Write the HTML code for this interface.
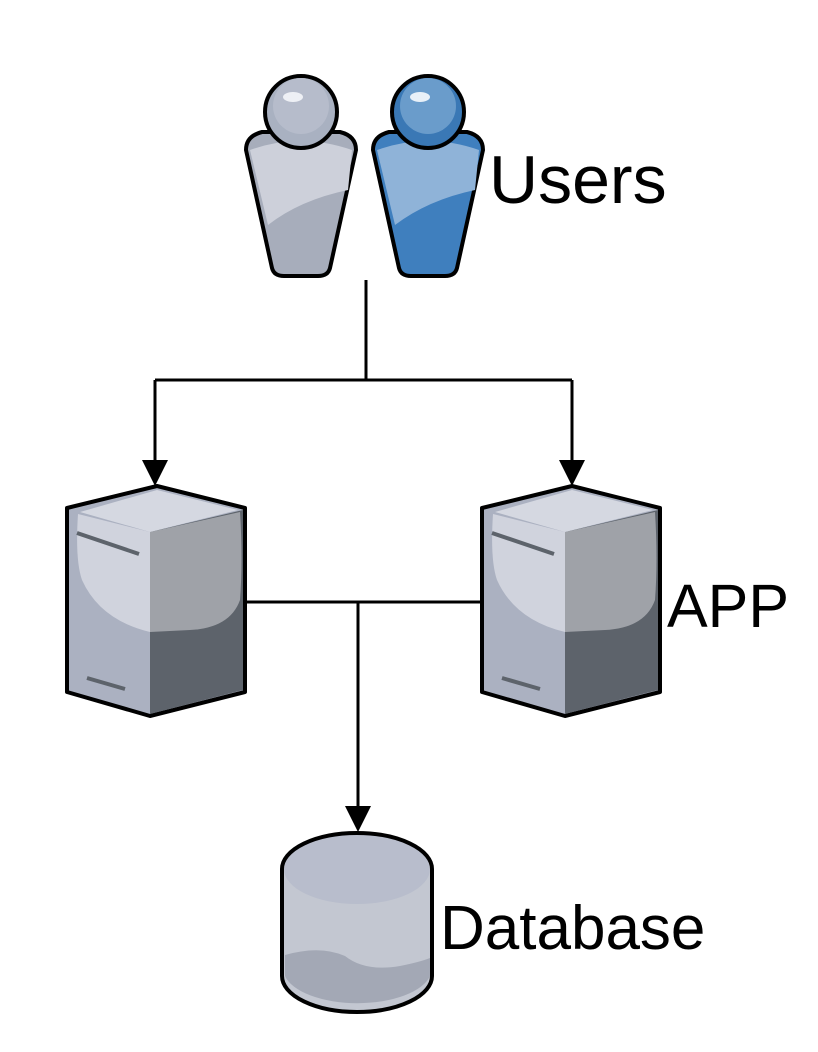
<!DOCTYPE html>
<html><head><meta charset="utf-8"><style>html,body{margin:0;padding:0;background:#fff}svg{display:block}</style></head>
<body>
<svg width="818" height="1052" viewBox="0 0 818 1052" xmlns="http://www.w3.org/2000/svg" font-family="Liberation Sans, sans-serif">
<defs>
<marker id="ar" viewBox="0 0 10 10" refX="9" refY="5" markerWidth="6" markerHeight="6" markerUnits="userSpaceOnUse" orient="auto"></marker>
</defs>
<!-- connectors -->
<g stroke="#000" stroke-width="3" fill="none">
<path d="M366 280 V380 M155 380 H572 M155 380 V465 M572 380 V465"/>
<path d="M245 602 H482 M358 602 V812"/>
</g>
<g fill="#000">
<path d="M142 460 L168 460 L155 486 Z"/>
<path d="M559 460 L585 460 L572 486 Z"/>
<path d="M345 806 L371 806 L358 832 Z"/>
</g>
<!-- person left -->
<g stroke="#000" stroke-width="4" stroke-linejoin="round">
<path d="M262 132 Q246 136 246 150 L272 268 Q274 276 284 276 L318 276 Q328 276 330 268 L356 150 Q356 136 340 132 Z" fill="#a7adbb"/>
<path d="M250 150 Q300 132 352 150 L348 190 Q300 200 268 225 Z" fill="#cdd0da" stroke="none"/>
<circle cx="301" cy="112" r="36" fill="#a9b1c1"/>
<circle cx="301" cy="106" r="28" fill="#b6bccb" stroke="none"/>
<ellipse cx="293" cy="97" rx="10" ry="5" fill="#eef0f5" stroke="none"/>
</g>
<!-- person right -->
<g stroke="#000" stroke-width="4" stroke-linejoin="round">
<path d="M389 132 Q373 136 373 150 L399 268 Q401 276 411 276 L445 276 Q455 276 457 268 L483 150 Q483 136 467 132 Z" fill="#3f7fbe"/>
<path d="M377 150 Q428 132 479 150 L475 190 Q428 200 395 225 Z" fill="#8fb3d8" stroke="none"/>
<circle cx="428" cy="112" r="36" fill="#3a78b5"/>
<circle cx="428" cy="106" r="28" fill="#6a9ccb" stroke="none"/>
<ellipse cx="420" cy="97" rx="10" ry="5" fill="#e8f0f8" stroke="none"/>
</g>
<text x="489" y="203" font-size="68">Users</text>
<!-- servers -->
<g id="srv">
<path d="M157 486 L67 508 L67 692 L150 716 L245 692 L245 508 Z" fill="#abb1c1" stroke="#000" stroke-width="4" stroke-linejoin="round"/>
<path d="M150 532 L243 510 L243 690 L150 714 Z" fill="#5d636b"/>
<path d="M150 532 L240 512 Q243 560 240 600 Q230 628 190 630 L150 632 Z" fill="#9fa2a8"/>
<path d="M150 532 L78 514 Q75 560 82 580 Q100 620 150 632 Z" fill="#d0d3dd"/>
<path d="M80 512 L157 490 L238 510 L150 532 Z" fill="#d5d8e1"/>
<path d="M77 533 L139 554" stroke="#5d636b" stroke-width="4"/>
<path d="M87 678 L125 689" stroke="#5d636b" stroke-width="4"/>
</g>
<use href="#srv" transform="translate(415,0)"/>
<text x="667" y="627" font-size="61">APP</text>
<!-- database -->
<path d="M282 869 L282 976 A75 36 0 0 0 432 976 L432 869 Z" fill="#c3c7d1" stroke="none"/>
<path d="M285 955 Q320 945 345 956 Q365 972 400 966 Q420 962 430 958 L430 976 A74 34 0 0 1 285 976 Z" fill="#a3a8b5"/>
<ellipse cx="357" cy="869" rx="73" ry="35" fill="#b8bdcc"/>
<path d="M282 869 L282 976 A75 36 0 0 0 432 976 L432 869 A75 36 0 0 0 282 869 Z" fill="none" stroke="#000" stroke-width="4"/>
<text x="440" y="949" font-size="62">Database</text>
</svg>
</body></html>
